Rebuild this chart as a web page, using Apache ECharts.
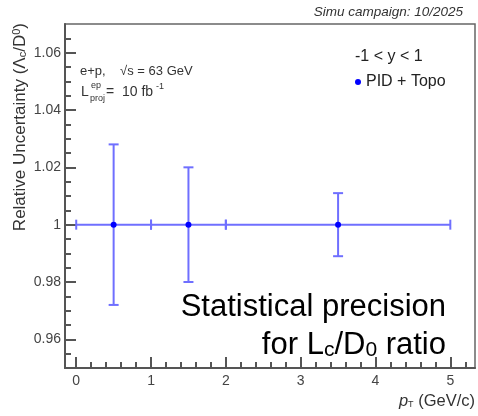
<!DOCTYPE html>
<html>
<head>
<meta charset="utf-8">
<script src="https://cdn.jsdelivr.net/npm/echarts@6/dist/echarts.min.js"></script>
<style>
html,body{margin:0;padding:0;background:#fff;}
#chart{width:478px;height:416px;}
</style>
</head>
<body>
<div id="chart"></div>
<script>
// ---- data ----
const xCenter = [0.5, 1.5, 3.5];
const xLow = [0, 1, 2];
const xHigh = [1, 2, 5];
const yValue = [1, 1, 1];
const yErr = [0.028, 0.02, 0.011];
const seriesName = 'PID + Topo';

const xMajorTicks = [0, 1, 2, 3, 4, 5];
const yMajorTicks = [0.96, 0.98, 1, 1.02, 1.04, 1.06];
const yTickLabels = ['0.96', '0.98', '1', '1.02', '1.04', '1.06'];

const X_MIN = -0.15, X_MAX = 5.33, Y_MIN = 0.95, Y_MAX = 1.07;

function minorList(a, b, step) {
  const out = [];
  const n = Math.round((b - a) / step);
  for (let i = 0; i <= n; i++) out.push(+(a + i * step).toFixed(4));
  return out;
}
const xMinorTicks = minorList(0, 5.2, 0.2);
const yMinorTicks = minorList(0.955, 1.065, 0.005);

const FONT = 'Liberation Sans, Arial, Helvetica, sans-serif';
const LINE = '#6f6fff';
const MARK = '#0000ff';
const AX = '#555';

const rows = xCenter.map((x, i) => [x, yValue[i], xLow[i], xHigh[i], yErr[i]]);

const chart = echarts.init(document.getElementById('chart'), null, {renderer: 'canvas'});

const axisLabelStyle = {color: '#444', fontSize: 14, fontFamily: FONT};

chart.setOption({
  animation: false,
  backgroundColor: '#fff',
  grid: {left: 65, right: 3, top: 24, bottom: 48, show: true, borderColor: '#666', borderWidth: 1.5, containLabel: false},
  legend: {
    data: [seriesName], left: 350, top: 69, icon: 'circle', itemWidth: 6, itemHeight: 6,
    textStyle: {fontSize: 16, color: '#222', fontFamily: FONT}
  },
  xAxis: [
    {
      type: 'value', min: X_MIN, max: X_MAX,
      axisLine: {show: true, onZero: false, lineStyle: {color: AX, width: 2}},
      axisTick: {show: true, inside: true, length: 11, customValues: xMajorTicks, lineStyle: {color: AX, width: 2}},
      axisLabel: {show: true, customValues: xMajorTicks, margin: 6, ...axisLabelStyle,
        formatter: v => String(Math.round(v))},
      splitLine: {show: false}
    },
    {
      type: 'value', min: X_MIN, max: X_MAX, position: 'bottom',
      axisLine: {show: false, onZero: false},
      axisTick: {show: true, inside: true, length: 6, customValues: xMinorTicks, lineStyle: {color: AX, width: 2}},
      axisLabel: {show: false},
      splitLine: {show: false}
    }
  ],
  yAxis: [
    {
      type: 'value', min: Y_MIN, max: Y_MAX,
      axisLine: {show: true, onZero: false, lineStyle: {color: AX, width: 2}},
      axisTick: {show: true, inside: true, length: 11, customValues: yMajorTicks, lineStyle: {color: AX, width: 2}},
      axisLabel: {show: true, customValues: yMajorTicks, margin: 4, ...axisLabelStyle,
        formatter: v => { const i = yMajorTicks.findIndex(t => Math.abs(t - v) < 1e-6); return i >= 0 ? yTickLabels[i] : ''; }},
      splitLine: {show: false}
    },
    {
      type: 'value', min: Y_MIN, max: Y_MAX, position: 'left',
      axisLine: {show: false, onZero: false},
      axisTick: {show: true, inside: true, length: 6, customValues: yMinorTicks, lineStyle: {color: AX, width: 2}},
      axisLabel: {show: false},
      splitLine: {show: false}
    }
  ],
  series: [{
    name: seriesName,
    type: 'custom',
    xAxisIndex: 0, yAxisIndex: 0,
    itemStyle: {color: MARK},
    data: rows,
    renderItem: function (params, api) {
      const xc = api.value(0), y = api.value(1), xl = api.value(2), xh = api.value(3), e = api.value(4);
      const c = api.coord([xc, y]);
      const lo = api.coord([xl, y]);
      const hi = api.coord([xh, y]);
      const top = api.coord([xc, y + e]);
      const bot = api.coord([xc, y - e]);
      const ls = {stroke: LINE, lineWidth: 2};
      const cap = 5;
      return {
        type: 'group',
        children: [
          {type: 'line', shape: {x1: lo[0], y1: lo[1], x2: hi[0], y2: hi[1]}, style: ls},
          {type: 'line', shape: {x1: lo[0], y1: lo[1] - cap, x2: lo[0], y2: lo[1] + cap}, style: ls},
          {type: 'line', shape: {x1: hi[0], y1: hi[1] - cap, x2: hi[0], y2: hi[1] + cap}, style: ls},
          {type: 'line', shape: {x1: top[0], y1: top[1], x2: bot[0], y2: bot[1]}, style: ls},
          {type: 'line', shape: {x1: top[0] - cap, y1: top[1], x2: top[0] + cap, y2: top[1]}, style: ls},
          {type: 'line', shape: {x1: bot[0] - cap, y1: bot[1], x2: bot[0] + cap, y2: bot[1]}, style: ls},
          {type: 'circle', shape: {cx: c[0], cy: c[1], r: 3}, style: {fill: MARK}}
        ]
      };
    }
  }],
  graphic: [
    {type: 'text', x: 463, y: 12, style: {text: 'Simu campaign: 10/2025', font: 'italic 13.5px ' + FONT, fill: '#333', align: 'right', verticalAlign: 'middle'}},
    {type: 'text', x: 355, y: 57, style: {text: '-1 < y < 1', font: '16px ' + FONT, fill: '#222', align: 'left', verticalAlign: 'middle'}},
    {type: 'text', x: 80, y: 71, style: {text: 'e+p,    √s = 63 GeV', font: '13px ' + FONT, fill: '#333', align: 'left', verticalAlign: 'middle'}},
    {type: 'text', x: 81, y: 92, style: {text: 'L', font: '14px ' + FONT, fill: '#333', align: 'left', verticalAlign: 'middle'}},
    {type: 'text', x: 91, y: 86, style: {text: 'ep', font: '9px ' + FONT, fill: '#333', align: 'left', verticalAlign: 'middle'}},
    {type: 'text', x: 90, y: 99, style: {text: 'proj', font: '9px ' + FONT, fill: '#333', align: 'left', verticalAlign: 'middle'}},
    {type: 'text', x: 106, y: 92, style: {text: '=  10 fb', font: '14px ' + FONT, fill: '#333', align: 'left', verticalAlign: 'middle'}},
    {type: 'text', x: 156, y: 87, style: {text: '-1', font: '9px ' + FONT, fill: '#333', align: 'left', verticalAlign: 'middle'}},
    {type: 'text', x: 20, y: 23, rotation: Math.PI / 2, style: {
      text: 'Relative Uncertainty (Λ{sub|c}/D{sup|0})',
      font: '17px ' + FONT, fill: '#333', align: 'right', verticalAlign: 'middle',
      rich: {
        sub: {fontSize: 11, fontFamily: FONT, fill: '#333', verticalAlign: 'bottom', lineHeight: 6},
        sup: {fontSize: 11, fontFamily: FONT, fill: '#333', verticalAlign: 'top', lineHeight: 6}
      }
    }},
    {type: 'text', x: 475, y: 401, style: {
      text: '{i|p}{sub|T} (GeV/c)',
      font: '16.5px ' + FONT, fill: '#333', align: 'right', verticalAlign: 'middle',
      rich: {
        i: {fontStyle: 'italic', fontSize: 16.5, fontFamily: FONT, fill: '#333'},
        sub: {fontSize: 9, fontFamily: FONT, fill: '#333', verticalAlign: 'bottom', lineHeight: 4}
      }
    }},
    {type: 'text', x: 446, y: 307, style: {text: 'Statistical precision', font: '31px ' + FONT, fill: '#000', align: 'right', verticalAlign: 'middle'}},
    {type: 'text', x: 446, y: 345, style: {
      text: 'for L{sub|c}/D{sub|0} ratio',
      font: '31px ' + FONT, fill: '#000', align: 'right', verticalAlign: 'middle',
      rich: {
        sub: {fontSize: 21, fontFamily: FONT, fill: '#000', verticalAlign: 'bottom', lineHeight: 6}
      }
    }}
  ]
});
</script>
</body>
</html>
